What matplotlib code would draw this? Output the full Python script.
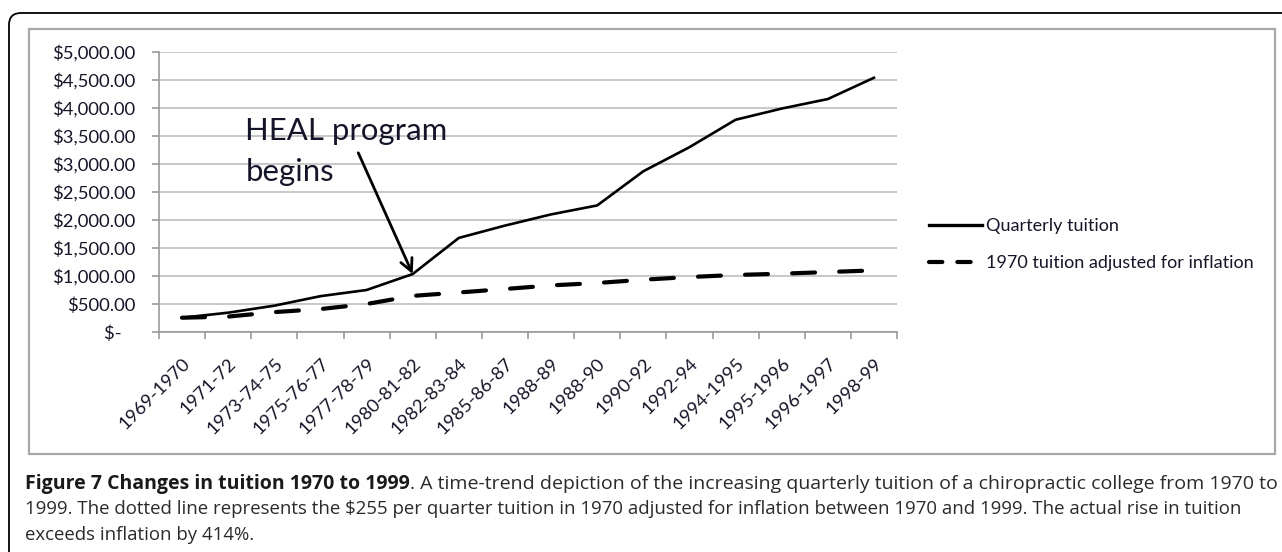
import matplotlib
matplotlib.use("Agg")
import matplotlib.pyplot as plt
import numpy as np
from matplotlib.lines import Line2D
from matplotlib.patches import FancyBboxPatch, Rectangle
from matplotlib.transforms import IdentityTransform
from matplotlib.ticker import FuncFormatter, MultipleLocator

# data
periods = ["1969-1970", "1971-72", "1973-74-75", "1975-76-77", "1977-78-79",
           "1980-81-82", "1982-83-84", "1985-86-87", "1988-89", "1988-90",
           "1990-92", "1992-94", "1994-1995", "1995-1996", "1996-1997", "1998-99"]
quarterly_tuition = [255, 345, 470, 640, 750, 1035, 1680, 1900, 2100, 2260,
                     2870, 3300, 3790, 3990, 4160, 4540]
adjusted_1970 = [255, 275, 355, 410, 500, 645, 705, 768, 832, 875,
                 934, 982, 1018, 1041, 1071, 1100]
series_labels = ["Quarterly tuition", "1970 tuition adjusted for inflation"]
annotation = ["HEAL program", "begins"]
caption_bold = "Figure 7 Changes in tuition 1970 to 1999"
caption_lines = [
    ". A time-trend depiction of the increasing quarterly tuition of a chiropractic college from 1970 to",
    "1999. The dotted line represents the $255 per quarter tuition in 1970 adjusted for inflation between 1970 and 1999. The actual rise in tuition",
    "exceeds inflation by 414%.",
]

W, H = 1282, 552
CHART_FONT = ["Lato", "DejaVu Sans"]
CAP_FONT = ["Open Sans", "DejaVu Sans"]
TXT = "#15152a"


def fx(x):
    return x / W


def fy(y):
    return 1 - y / H


fig = plt.figure(figsize=(W / 100, H / 100), dpi=100)

# outer rounded frame and inner chart frame (pixel coordinates)
fig.add_artist(FancyBboxPatch((9, -30), 1320, H - 13 + 30,
                              boxstyle="round,pad=0,rounding_size=12",
                              transform=IdentityTransform(), fill=False,
                              edgecolor="black", lw=1.3))
fig.add_artist(Rectangle((29, H - 454), 1275 - 29, 454 - 29,
                         transform=IdentityTransform(), fill=False,
                         edgecolor="#a8a8a8", lw=1.6))

ax = fig.add_axes([fx(159), fy(332), fx(897 - 159), (332 - 52) / H])
x = np.arange(len(periods))
ax.plot(x, quarterly_tuition, color="black", lw=1.9, solid_joinstyle="round",
        label=series_labels[0])
ax.plot(x, adjusted_1970, color="black", lw=3.0, dashes=(5.5, 5.8),
        dash_capstyle="round", label=series_labels[1])

ax.set_xlim(-0.5, len(periods) - 0.5)
ax.set_ylim(0, 5000)
ax.yaxis.set_major_locator(MultipleLocator(500))


def money(v, pos):
    if v == 0:
        return "$-   "
    return f"${v:,.2f}"


ax.yaxis.set_major_formatter(FuncFormatter(money))
ax.grid(axis="y", color="#bdbdbd", lw=1.2)
ax.set_axisbelow(True)
for s in ["top", "right"]:
    ax.spines[s].set_visible(False)
for s in ["left", "bottom"]:
    ax.spines[s].set_color("#999999")
    ax.spines[s].set_linewidth(1.2)

ax.set_xticks(x)
ax.set_xticklabels(periods, rotation=45, ha="right", va="top",
                   rotation_mode="anchor")
ax.set_xticks(np.arange(-0.5, len(periods), 1), minor=True)
ax.tick_params(axis="x", which="major", length=0, pad=17)
ax.tick_params(axis="x", which="minor", length=5, color="#999999", width=1.2)
ax.tick_params(axis="y", length=5, color="#999999", width=1.2, pad=12)
for lab in ax.get_xticklabels():
    lab.set_fontfamily(CHART_FONT)
    lab.set_fontsize(13.3)
    lab.set_color(TXT)
for lab in ax.get_yticklabels():
    lab.set_fontfamily(CHART_FONT)
    lab.set_fontsize(13.3)
    lab.set_color(TXT)

# HEAL annotation
ax.text(1.37, 3437, annotation[0], fontsize=22.4, family=CHART_FONT, color=TXT,
        va="baseline", ha="left")
ax.text(1.37, 2690, annotation[1], fontsize=22.4, family=CHART_FONT, color=TXT,
        va="baseline", ha="left")
ax.annotate("", xy=(5, quarterly_tuition[5]), xytext=(3.82, 3200),
            arrowprops=dict(arrowstyle="->", color="black", lw=2.0,
                            mutation_scale=22, shrinkA=0, shrinkB=0))

# legend
handles = [Line2D([], [], color="black", lw=2.4),
           Line2D([], [], color="black", lw=3.0, dashes=(3.2, 3.6),
                  dash_capstyle="round")]
fig.legend(handles, series_labels, loc="center left",
           bbox_to_anchor=(fx(929), fy(244.5)), frameon=False,
           borderpad=0, borderaxespad=0, handlelength=2.95, handletextpad=0.22,
           labelspacing=1.15, prop=dict(family=CHART_FONT, size=13),
           labelcolor=TXT)

# caption: each piece fitted to the width it takes in the reference
renderer = fig.canvas.get_renderer()


def fit(t, width):
    t.set_fontsize(10 * width / t.get_window_extent(renderer).width)
    return t


t_bold = fig.text(fx(25), fy(489), caption_bold, family=CAP_FONT,
                  fontweight="bold", fontsize=10, color="#1a1a1a", va="baseline")
fit(t_bold, 410 - 25)
t_rest = fig.text(0, fy(489), caption_lines[0], family=CAP_FONT,
                  fontsize=10, color="#2a2a2a", va="baseline")
bb = t_bold.get_window_extent(renderer)
t_rest.set_x(bb.x1 / W)
fit(t_rest, 1275 - bb.x1)
t_l2 = fig.text(fx(25), fy(514.5), caption_lines[1], family=CAP_FONT,
                fontsize=10, color="#2a2a2a", va="baseline")
fit(t_l2, 1243 - 25)
fig.text(fx(25), fy(540), caption_lines[2], family=CAP_FONT,
         fontsize=t_l2.get_fontsize(), color="#2a2a2a", va="baseline")

fig.savefig("out.png", dpi=100)
